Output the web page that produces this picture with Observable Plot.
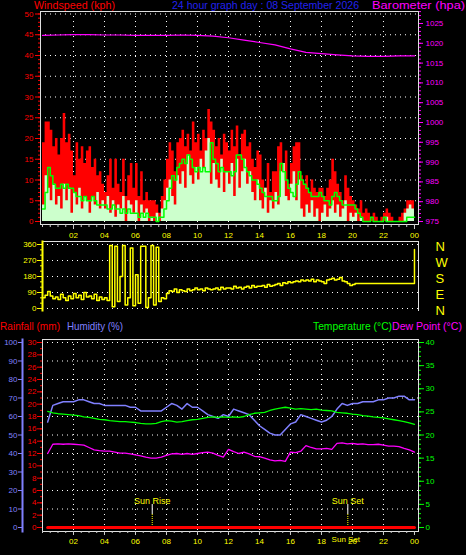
<!DOCTYPE html>
<html><head><meta charset="utf-8">
<script src="https://cdn.jsdelivr.net/npm/d3@7"></script>
<script src="https://cdn.jsdelivr.net/npm/@observablehq/plot@0.6"></script>
<style>
html,body{margin:0;padding:0;background:#000;}
#chart{position:relative;width:466px;height:555px;background:#000;overflow:hidden;}
#chart svg{position:absolute;left:0;top:0;}
</style></head><body><div id="chart"></div>
<script>
// ---- Data (10-minute samples, hour = index/6) ----
const gust = [
 19,24,24,22,18,20, 16,20,26,19,21,17, 11,19,15,18,14,17, 18,13,15,11,12,9,
 7,11,15,8,15,9, 7,15,6,11,14,8, 14,6,12,5,7,5, 5,5,4,2,6,10,
 15,19,17,12,19,20, 22,18,21,17,24,19, 21,17,22,20,27,24, 22,18,20,16,21,19,
 17,22,18,23,16,21, 22,18,19,15,13,17, 16,10,8,14,7,12, 12,18,19,14,17,9,
 14,18,19,19,11,9, 11,7,10,8,7,8, 8,6,8,10,15,12, 9,7,5,11,8,6,
 5,4,3,5,2,3, 2,1,2,1,0,1, 2,3,2,1,0,0, 1,2,3,5,5,5, 5];
const speed = [
 4,11,8,5,9,4, 6,3,9,5,8,2, 7,4,8,3,6,5, 2,6,4,7,3,5,
 3,6,2,5,1,4, 3,6,0,5,4,2, 5,0,4,2,3,0, 1,0,2,0,3,5,
 8,10,6,4,11,9, 12,8,16,11,9,13, 10,15,13,17,20,9, 14,10,8,15,7,12,
 9,14,6,15,8,12, 15,9,12,7,5,10, 5,3,8,2,5,3, 7,4,12,14,6,5,
 9,12,5,10,3,1, 4,2,5,1,3,0, 2,4,1,3,5,2, 4,1,3,5,0,2,
 1,2,0,1,0,0, 0,0,0,0,0,0, 0,1,0,0,0,0, 0,0,2,3,4,3, 3];
const avgSpeed = [
 3,7,13,11,9,8, 8,9,8,9,8,8, 7,6,6,5,6,5, 5,6,5,4,4,4,
 4,3,3,4,3,3, 2,3,2,3,2,2, 2,1,2,1,2,1, 1,1,0,1,1,3,
 5,8,11,10,13,14, 15,14,16,15,13,12, 13,12,13,12,12,19, 15,14,12,13,12,12,
 12,11,12,16,16,15, 13,12,11,10,10,9, 8,7,6,6,6,5, 5,6,14,12,10,8,
 7,6,9,12,10,9, 8,7,6,6,6,7, 6,5,5,4,6,7, 6,5,4,4,4,4,
 4,3,2,1,0,0, 0,1,0,0,0,0, 1,0,0,0,0,0, 0,0,0,1,1,1, 1];
const windDir = [
 60,75,95,70,55,65, 50,80,60,45,70,55, 85,60,75,50,90,65, 70,55,80,45,65,50,
 60,45,355,10,350,40, 180,355,20,60,340,15, 190,30,350,350,5,60, 355,20,345,40,60,55,
 85,100,95,110,90,105, 100,95,110,100,105,115, 105,110,100,115,110,105, 110,115,105,120,110,115,
 115,110,125,115,120,110, 120,125,115,130,120,125, 125,130,120,135,125,130, 135,140,130,145,140,150,
 145,150,155,150,160,155, 160,155,165,150,160,155, 150,140,160,165,170,160, 165,175,155,150,140,130,
 135,141,141,141,141,141, 141,141,141,141,141,141, 141,141,141,141,141,141, 141,141,141,141,141,141, 332];
// hourly barometer (hPa), hour 0..24
const barometer = [1022.0,1022.1,1022.2,1022.2,1022.1,1022.1,1022.0,1022.0,1022.0,1022.1,1022.0,1021.8,
 1021.4,1020.8,1020.2,1019.6,1018.6,1017.7,1017.4,1017.1,1016.8,1016.7,1016.7,1016.8,1016.8];
// 20-minute samples, hour = (index+1)/3
const humidity = [57,66,67, 68,68,68, 69,69,68, 67,67,66, 66,66,66, 66,65,65, 63,63,63, 63,63,65,
 67,66,64, 67,65,65, 63,61,60, 59,61,60, 64,63,62, 61,58,55, 53,51,50, 50,53,56,
 57,61,60, 59,58,57, 58,60,64, 67,66,67, 67,68,68, 68,69,69, 70,70,71, 71,69,69];
const temperature = [25.1,24.8,24.6, 24.5,24.4,24.3, 24.2,23.9,23.8, 23.6,23.4,23.3, 23.1,23.0,22.9, 22.9,22.8,22.7,
 22.5,22.4,22.4, 22.5,22.9,23.1, 23.0,22.8,22.9, 23.1,23.3,23.4, 23.6,23.8,23.9, 23.8,23.9,23.8,
 23.9,23.8,24.0, 24.4,24.7,24.8, 24.9,25.3,25.6, 25.8,26.0,25.8, 25.6,25.7,25.6, 25.5,25.6,25.4,
 25.3,25.2,24.9, 24.8,24.7,24.5, 24.4,24.2,24.1, 23.9,23.8,23.7, 23.5,23.3,23.1, 22.9,22.6,22.3];
const dewPoint = [16.0,18.0,18.1, 18.0,18.1,18.0, 17.9,17.8,17.3, 16.8,16.6,16.5, 16.5,16.3,16.1, 16.1,15.9,15.7,
 15.5,15.2,15.0, 15.0,15.2,15.6, 15.9,16.0,15.8, 16.0,15.8,16.0, 16.2,16.3,16.1, 15.6,15.2,16.9,
 16.4,16.0,16.3, 15.9,15.4,15.3, 15.0,14.6,14.4, 14.5,14.3,16.3, 16.2,16.5,17.7, 17.3,17.0,17.0,
 17.1,16.9,18.2, 18.3,18.1,18.2, 18.0,18.1,17.9, 17.9,18.0,17.8, 17.6,17.6,17.5, 17.1,16.8,16.3];
const rainfall = [0,0,0,0,0,0,0,0,0,0,0,0,0,0,0,0,0,0,0,0,0,0,0,0,0,0,0,0,0,0,0,0,0,0,0,0,
 0,0,0,0,0,0,0,0,0,0,0,0,0,0,0,0,0,0,0,0,0,0,0,0,0,0,0,0,0,0,0,0,0,0,0,0];
const sunEvents = [{label: "Sun Rise", time: 7.08}, {label: "Sun Set", time: 19.7}];
const compassTicks = [0, 90, 180, 270, 360];
const compassLabels = ["N", "E", "S", "W", "N"];

// ---- Build ----
const W = 466, H = 555;
const FONT = "'Liberation Sans', Arial, sans-serif";
const chart = document.getElementById("chart");
const add = (p) => chart.appendChild(p);
const style = {background: "transparent", color: "white", fontFamily: FONT, fontSize: "8px"};
const dotted = {stroke: "white", strokeOpacity: 1, strokeDasharray: "1,4"};
const hourFmt = h => String(h % 24).padStart(2, "0");
const FRAME = "#e0e0e0";

const windRows = gust.map((g, i) => ({t: i / 6, gust: g, speed: speed[i], avg: avgSpeed[i], dir: windDir[i]}));
const baroRows = barometer.map((p, i) => ({t: i, p}));
const climRows = humidity.map((h, i) => ({t: (i + 1) / 3, hum: h, temp: temperature[i], dew: dewPoint[i], rain: rainfall[i]}));

const top1 = {width: W, height: H, marginLeft: 40, marginRight: 48, marginTop: 11, marginBottom: 331, style};
const topX = {domain: [-0.13, 24.26], axis: null};

// Top panel: wind speed
add(Plot.plot({...top1, x: topX, y: {domain: [-0.72, 50.6], axis: null},
  marks: [
    Plot.gridY(d3.range(5, 51, 5), dotted),
    Plot.gridX(d3.range(2, 23, 2), dotted),
    Plot.areaY(windRows, {x: "t", y: "gust", curve: "step-after", fill: "#ff0000"}),
    Plot.areaY(windRows, {x: "t", y: "speed", curve: "step-after", fill: "#ccffcc"}),
    Plot.lineY(windRows, {x: "t", y: "avg", curve: "step-after", stroke: "#00ff00", strokeWidth: 1.5}),
    Plot.frame({stroke: FRAME}),
    Plot.axisY({ticks: d3.range(0, 51, 5), anchor: "left", tickSize: 5, tickPadding: 2, stroke: "#ff0000", fill: "#ff0000", label: null}),
    Plot.axisY({ticks: d3.range(0, 51, 1), anchor: "left", tickSize: 2, stroke: "#ff0000", fill: "none", label: null}),
    Plot.axisX({ticks: d3.range(2, 25, 2), anchor: "bottom", tickSize: 5, tickPadding: 3, stroke: "#cccccc", fill: "#ffff00", tickFormat: hourFmt, label: null}),
    Plot.axisX({ticks: d3.range(0, 24.01, 0.5), anchor: "bottom", tickSize: 3, stroke: "#cccccc", fill: "none", label: null})
  ]}));

// Top panel: barometer
add(Plot.plot({...top1, x: topX, y: {domain: [974.24, 1028.03], axis: null},
  marks: [
    Plot.lineY(baroRows, {x: "t", y: "p", stroke: "#ff00ff", strokeWidth: 1.2}),
    Plot.axisY({ticks: d3.range(975, 1026, 5), anchor: "right", tickSize: 4, tickPadding: 3, stroke: "#ff00ff", fill: "#ff00ff", tickFormat: "d", label: null}),
    Plot.axisY({ticks: d3.range(975, 1029, 1), anchor: "right", tickSize: 2, stroke: "#ff00ff", fill: "none", label: null})
  ]}));

// Middle panel: wind direction
add(Plot.plot({width: W, height: H, marginLeft: 42, marginRight: 48, marginTop: 241, marginBottom: 245, style,
  x: {domain: [0, 24.26], axis: null}, y: {domain: [-11.25, 376.9], axis: null},
  marks: [
    Plot.gridY(compassTicks, dotted),
    Plot.lineY(windRows, {x: "t", y: "dir", curve: "step-after", stroke: "#ffff00", strokeWidth: 1.5}),
    Plot.frame({anchor: "top", stroke: FRAME}),
    Plot.frame({anchor: "right", stroke: FRAME}),
    Plot.frame({anchor: "left", stroke: "#ffff00", strokeWidth: 2}),
    Plot.axisY({ticks: compassTicks, anchor: "left", tickSize: 5, tickPadding: 1, stroke: "#ffff00", fill: "#ffff00", label: null}),
    Plot.axisY({ticks: d3.range(0, 361, 30), anchor: "left", tickSize: 2, stroke: "#ffff00", fill: "none", label: null}),
    Plot.axisY({ticks: compassTicks, anchor: "right", tickSize: 0, tickPadding: 17, fill: "#ffff00", fontSize: 13, dy: 2,
      tickFormat: d => compassLabels[compassTicks.indexOf(d)], label: null})
  ]}));

const bot = {width: W, height: H, marginLeft: 42, marginRight: 48, marginTop: 339, marginBottom: 24, style};
const botX = {domain: [0, 24.26], axis: null};

// Bottom panel: humidity + grid + time axis
add(Plot.plot({...bot, x: botX, y: {domain: [-2.16, 101.62], axis: null},
  marks: [
    Plot.gridY(d3.range(10, 101, 10), dotted),
    Plot.gridX(d3.range(2, 23, 2), dotted),
    Plot.frame({stroke: FRAME}),
    Plot.lineY(climRows, {x: "t", y: "hum", stroke: "#8080ff", strokeWidth: 1.5}),
    Plot.ruleX(sunEvents, {x: "time", stroke: "white", insetTop: 165, insetBottom: 17}),
    Plot.ruleX(sunEvents, {x: "time", stroke: "#ffff00", strokeDasharray: "1,1", insetTop: 175, insetBottom: 4}),
    Plot.text(sunEvents, {x: "time", text: "label", frameAnchor: "top", dy: 158.5, fill: "#ffff00", fontSize: 9}),
    Plot.axisX({ticks: d3.range(2, 25, 2), anchor: "bottom", tickSize: 4, tickPadding: 3, stroke: "#cccccc", fill: "#ffff00", tickFormat: hourFmt, label: null}),
    Plot.axisX({ticks: d3.range(0, 24.01, 0.5), anchor: "bottom", tickSize: 2, stroke: "#cccccc", fill: "none", label: null}),
    Plot.text([sunEvents[1]], {x: "time", text: "label", frameAnchor: "bottom", dy: 10, dx: -2, fill: "#ffff00", fontSize: 8})
  ]}));

// Bottom panel: temperature & dew point
add(Plot.plot({...bot, x: botX, y: {domain: [-0.865, 40.65], axis: null},
  marks: [
    Plot.lineY(climRows, {x: "t", y: "temp", stroke: "#00ff00", strokeWidth: 1.3}),
    Plot.lineY(climRows, {x: "t", y: "dew", stroke: "#ff00ff", strokeWidth: 1.3}),
    Plot.axisY({ticks: d3.range(0, 41, 5), anchor: "right", tickSize: 5, tickPadding: 2, stroke: "#00ff00", fill: "#00ff00", label: null}),
    Plot.axisY({ticks: d3.range(0, 41, 1), anchor: "right", tickSize: 2, stroke: "#00ff00", fill: "none", label: null})
  ]}));

// Bottom panel: rainfall
add(Plot.plot({...bot, x: botX, y: {domain: [-0.65, 30.49], axis: null},
  marks: [
    Plot.lineY(climRows, {x: "t", y: "rain", stroke: "#ff0000", strokeWidth: 3}),
    Plot.axisY({ticks: d3.range(0, 31, 2), anchor: "left", tickSize: 5, tickPadding: 1, stroke: "#ff0000", fill: "#ff0000", label: null}),
    Plot.axisY({ticks: d3.range(0, 31, 1), anchor: "left", tickSize: 2, stroke: "#ff0000", fill: "none", label: null})
  ]}));

// Humidity axis (outer left)
add(Plot.plot({width: W, height: H, marginLeft: 22, marginRight: 400, marginTop: 339, marginBottom: 24, style,
  y: {domain: [-2.16, 101.62], axis: null},
  marks: [
    Plot.frame({anchor: "left", stroke: "#8080ff", strokeWidth: 2}),
    Plot.axisY({ticks: d3.range(0, 101, 10), anchor: "left", tickSize: 4, tickPadding: 1, stroke: "#8080ff", fill: "#8080ff", label: null})
  ]}));

// Titles
const svg = d3.select(chart).append("svg").attr("width", W).attr("height", H)
  .style("font-family", FONT).style("font-size", "10.5px");
const titles = [
  ["Windspeed (kph)", 34, 9, 81, "#ff0000"],
  ["24 hour graph day : 08 September 2026", 172, 9, 187, "#2222ee"],
  ["Barometer (hpa)", 372, 9, 93, "#ff00ff"],
  ["Rainfall (mm)", 0, 330, 60, "#ff0000"],
  ["Humidity (%)", 67, 330, 56, "#8080ff"],
  ["Temperature (°C)", 313, 330, 79, "#00ff00"],
  ["Dew Point (°C)", 392, 330, 70, "#ff00ff"]
];
for (const [t, x, y, w, c] of titles) {
  svg.append("text").attr("x", x).attr("y", y).attr("fill", c)
    .attr("textLength", w).attr("lengthAdjust", "spacingAndGlyphs").text(t);
}
</script></body></html>
